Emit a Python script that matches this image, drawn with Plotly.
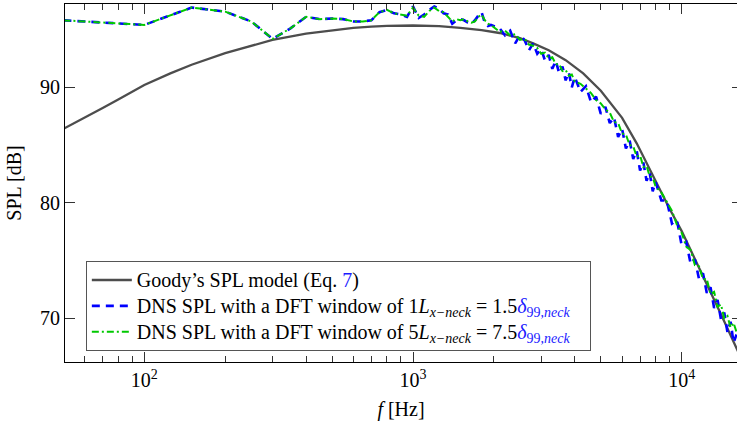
import plotly.graph_objects as go

# ---------------- data ----------------
goody_f = [50, 60, 70, 80, 100, 125, 150, 200, 250, 300, 400, 500, 600, 700, 800,
           1000, 1250, 1500, 1800, 2100, 2500, 2800, 3200, 3700, 4300, 5000, 5700,
           6000, 6800, 7600, 8500, 9000, 10000, 11000, 12400, 14000, 16000, 17000]
goody_spl = [86.4, 87.35, 88.2, 88.95, 90.2, 91.2, 91.95, 92.95, 93.6, 94.1, 94.65, 94.95,
             95.15, 95.25, 95.32, 95.35, 95.3, 95.15, 94.95, 94.7, 94.25, 93.8, 93.2, 92.35,
             91.2, 89.7, 88.05, 87.35, 85.15, 82.85, 80.6, 79.5, 77.55, 75.55, 72.98, 70.36,
             67.4, 66.1]

dns_f = [50, 100, 150, 200, 250, 300, 350, 400, 450, 500, 550, 600, 650, 700, 750, 800,
         850, 900, 950, 1000, 1050, 1100, 1150, 1200, 1250, 1300, 1350, 1400, 1450, 1500,
         1550, 1600, 1650, 1700, 1750, 1800, 1850, 1900, 1950, 2000,
         2100, 2200, 2300, 2400, 2500, 2600, 2700, 2800, 2900, 3000,
         3100, 3200, 3300, 3400, 3500, 3600, 3700, 3800, 3900, 4000,
         4200, 4400, 4600, 4800, 5000, 5200, 5400, 5600, 5800, 6000,
         6200, 6400, 6600, 6800, 7000, 7200, 7400, 7600, 7800, 8000,
         8400, 8800, 9200, 9600, 10000, 10400, 10800, 11200, 11600, 12000,
         12400, 12800, 13200, 13600, 14000, 14400, 14800, 15200, 15600, 16000]

dns_w1 = [95.8, 95.4, 96.9, 96.55, 95.7, 94.2, 95.1, 96.1, 95.9, 95.95, 95.9, 95.7, 95.7,
          95.8, 96.5, 96.7, 96.4, 96.3, 96.1, 97.0, 96.0, 96.3, 96.7, 97.0, 96.8, 96.4,
          96.3, 95.5, 95.8, 95.9, 95.8, 95.6, 95.5, 95.8, 96.2, 96.5, 95.6, 95.3, 95.4, 95.3,
          95.1, 94.5, 94.9, 93.8, 94.5, 94.1, 93.2, 93.8, 92.9, 93.3,
          92.3, 92.8, 91.6, 92.3, 91.2, 91.8, 90.6, 91.3, 90.0, 90.9,
          89.6, 90.1, 88.7, 89.2, 87.7, 88.3, 86.9, 87.4, 85.7, 86.4,
          84.7, 85.4, 83.8, 84.5, 82.8, 83.5, 81.9, 82.6, 81.0, 81.8,
          80.2, 80.2, 78.2, 78.5, 76.3, 76.6, 74.7, 75.1, 73.4, 73.9,
          72.2, 72.7, 70.9, 71.6, 69.9, 70.5, 68.8, 69.7, 67.9, 68.6]

dns_w5 = [95.8, 95.4, 96.9, 96.55, 95.7, 94.2, 95.1, 96.1, 95.9, 95.95, 95.9, 95.7, 95.7,
          95.8, 96.5, 96.7, 96.4, 96.3, 96.2, 96.9, 96.2, 96.1, 96.6, 96.9, 96.6, 96.5,
          96.1, 95.7, 95.9, 95.8, 95.9, 95.7, 95.6, 95.7, 96.1, 96.3, 95.8, 95.5, 95.4, 95.2,
          94.8, 94.9, 94.5, 94.6, 94.1, 94.2, 93.7, 93.6, 93.4, 92.9,
          93.0, 92.5, 92.6, 92.0, 92.0, 91.4, 91.5, 91.0, 91.1, 90.5,
          90.3, 89.9, 89.5, 88.9, 88.6, 88.1, 87.8, 87.0, 86.9, 86.0,
          85.9, 85.0, 84.9, 84.0, 84.1, 83.1, 83.2, 82.3, 82.2, 81.4,
          80.9, 80.1, 79.3, 78.1, 77.4, 76.2, 75.9, 74.6, 74.5, 73.4,
          73.4, 72.1, 72.3, 71.0, 71.2, 70.0, 70.2, 69.2, 69.6, 68.8]

x_major = [100, 1000, 10000]
x_major_text = ["10<sup>2</sup>", "10<sup>3</sup>", "10<sup>4</sup>"]
x_minor = [60, 70, 80, 90, 200, 300, 400, 500, 600, 700, 800, 900,
           2000, 3000, 4000, 5000, 6000, 7000, 8000, 9000]
y_ticks = [70, 80, 90]

names = [
    "Goody’s SPL model (Eq. <span style='color:#1a1aff'>7</span>)",
    "DNS SPL with a DFT window of 1<i>L</i><sub><i>x−neck</i></sub> = 1.5"
    "<span style='color:#1a1aff'><i>δ</i><sub>99,<i>neck</i></sub></span>\u00a0\u00a0\u00a0",
    "DNS SPL with a DFT window of 5<i>L</i><sub><i>x−neck</i></sub> = 7.5"
    "<span style='color:#1a1aff'><i>δ</i><sub>99,<i>neck</i></sub></span>\u00a0\u00a0\u00a0",
]

# ---------------- figure ----------------
FONT = "Liberation Serif, Times New Roman, Times, serif"
FS = 20
LEG_FS = 17.6  # sets legend row pitch; displayed text uses FS


def big(txt):
    return "<span style='font-size:%dpx'>%s</span>" % (FS, txt)


fig = go.Figure()
fig.add_trace(go.Scatter(x=goody_f, y=goody_spl, mode="lines", name=big(names[0]),
                         line=dict(color="#4d4d4d", width=2.3)))
fig.add_trace(go.Scatter(x=dns_f, y=dns_w1, mode="lines", name=big(names[1]),
                         line=dict(color="#0000ff", width=2.6, dash="8px,6px")))
fig.add_trace(go.Scatter(x=dns_f, y=dns_w5, mode="lines", name=big(names[2]),
                         line=dict(color="#00c800", width=2.0, dash="7px,3px,2px,3px")))
# helper trace so the right-hand tick axis is drawn
fig.add_trace(go.Scatter(x=goody_f, y=goody_spl, mode="lines", yaxis="y2",
                         line=dict(width=0), opacity=0, showlegend=False,
                         hoverinfo="skip"))

fig.update_layout(
    width=737, height=423,
    margin=dict(l=65, r=0, t=4, b=61, autoexpand=False),
    paper_bgcolor="white", plot_bgcolor="white",
    font=dict(family=FONT, size=FS, color="black"),
    showlegend=True,
    legend=dict(x=0.031, y=0.282, xanchor="left", yanchor="top",
                bgcolor="white", bordercolor="#555", borderwidth=1,
                font=dict(family=FONT, size=LEG_FS, color="black"),
                itemwidth=40, tracegroupgap=0),
    xaxis=dict(type="log", range=[1.7049, 4.2058], automargin=False,
               tickmode="array", tickvals=x_major, ticktext=x_major_text,
               ticks="inside", ticklen=10, tickwidth=1, tickcolor="#333",
               showline=True, linecolor="black", linewidth=1.2, mirror="ticks",
               showgrid=False, zeroline=False,
               minor=dict(tickmode="array", tickvals=x_minor, ticks="inside",
                          ticklen=6, tickwidth=1, tickcolor="#333", showgrid=False),
               title=dict(text="<i>f</i> [Hz]", font=dict(family=FONT, size=FS),
                          standoff=11),
               tickfont=dict(family=FONT, size=FS)),
    yaxis=dict(range=[66.22, 97.21], automargin=False,
               tickmode="array", tickvals=y_ticks,
               ticks="inside", ticklen=10, tickwidth=1, tickcolor="#333",
               showline=True, linecolor="black", linewidth=1.2, mirror=False,
               showgrid=False, zeroline=False,
               title=dict(text="SPL [dB]", font=dict(family=FONT, size=FS),
                          standoff=12),
               tickfont=dict(family=FONT, size=FS)),
    yaxis2=dict(range=[66.22, 97.21], overlaying="y", side="right", automargin=False,
                tickmode="array", tickvals=y_ticks, ticks="inside", ticklen=5,
                tickwidth=1, tickcolor="#333", showticklabels=False,
                showline=False, showgrid=False, zeroline=False),
)

fig.write_html("out.html",
               config={"displayModeBar": False},
               post_script="document.body.style.margin='0';"
                           "document.body.style.overflow='hidden';")
